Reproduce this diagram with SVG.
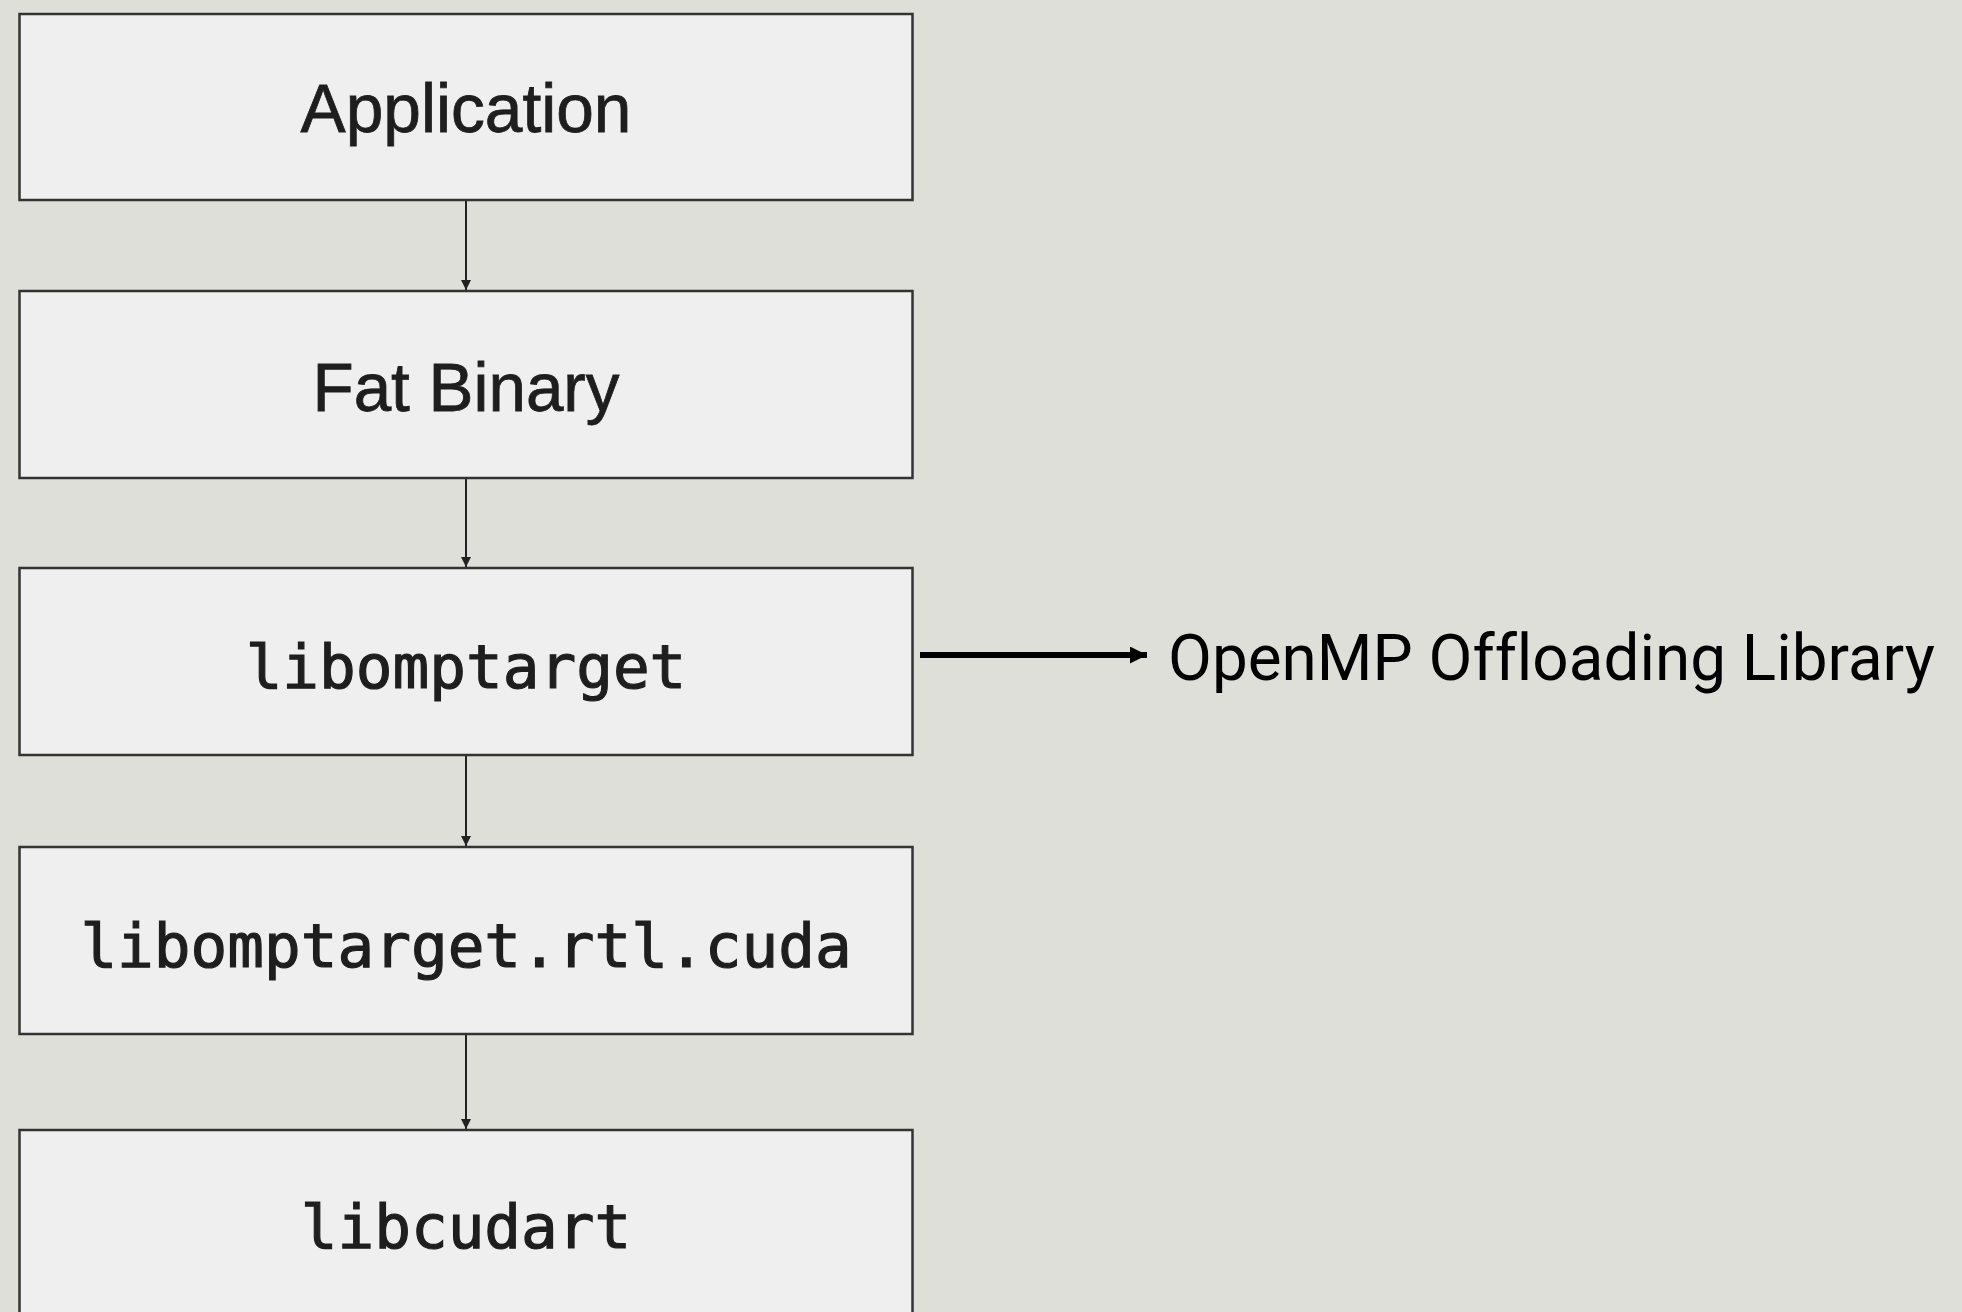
<svg xmlns="http://www.w3.org/2000/svg" width="1962" height="1312" viewBox="0 0 1962 1312">
<defs>
<style>
.box{fill:#efefef;stroke:#333;stroke-width:2.5}
.sans{font-family:"Liberation Sans",Arial,sans-serif;font-size:69px;fill:#1e1e1e;stroke:#1e1e1e;stroke-width:0.8;text-anchor:middle}
.mono{font-family:"DejaVu Sans Mono","Liberation Mono",monospace;font-size:61px;fill:#1e1e1e;stroke:#1e1e1e;stroke-width:1.2;text-anchor:middle}
.conn{stroke:#222;stroke-width:2;fill:none}
.side{stroke:#000;stroke-width:6;fill:none}
.label{font-family:Roboto,"Noto Sans",sans-serif;font-size:65px;fill:#000;font-variant-ligatures:none;font-feature-settings:"liga" 0}
</style>
<marker id="ah" viewBox="0 0 10 10" refX="10" refY="5" markerWidth="10" markerHeight="18" markerUnits="userSpaceOnUse" orient="auto">
<path d="M0,0 L10,5 L0,10 z" fill="#222"/>
</marker>
<marker id="ah2" viewBox="0 0 10 10" refX="10" refY="5" markerWidth="18" markerHeight="17" markerUnits="userSpaceOnUse" orient="auto">
<path d="M0,0 L10,5 L0,10 z" fill="#000"/>
</marker>
</defs>
<rect width="1962" height="1312" fill="#dfdfd9"/>
<g id="connectors">
<line class="conn" x1="466" y1="201" x2="466" y2="290" marker-end="url(#ah)"/>
<line class="conn" x1="466" y1="479" x2="466" y2="567" marker-end="url(#ah)"/>
<line class="conn" x1="466" y1="756" x2="466" y2="846" marker-end="url(#ah)"/>
<line class="conn" x1="466" y1="1035" x2="466" y2="1129" marker-end="url(#ah)"/>
<line class="side" x1="920" y1="655" x2="1147" y2="655" marker-end="url(#ah2)"/>
</g>
<g id="application">
<rect class="box" x="19.5" y="14" width="893" height="186"/>
<text class="sans" x="466" y="132" textLength="331" lengthAdjust="spacingAndGlyphs">Application</text>
</g>
<g id="fat-binary">
<rect class="box" x="19.5" y="291" width="893" height="187"/>
<text class="sans" x="466" y="411" textLength="307" lengthAdjust="spacingAndGlyphs">Fat Binary</text>
</g>
<g id="libomptarget">
<rect class="box" x="19.5" y="568" width="893" height="187"/>
<text class="mono" x="466" y="688">libomptarget</text>
</g>
<g id="libomptarget-rtl-cuda">
<rect class="box" x="19.5" y="847" width="893" height="187"/>
<text class="mono" x="466" y="967">libomptarget.rtl.cuda</text>
</g>
<g id="libcudart">
<rect class="box" x="19.5" y="1130" width="893" height="200"/>
<text class="mono" x="466" y="1248">libcudart</text>
</g>
<g id="openmp-label">
<text class="label" x="1168" y="680" textLength="767" lengthAdjust="spacingAndGlyphs">OpenMP Offloading Library</text>
</g>
</svg>
